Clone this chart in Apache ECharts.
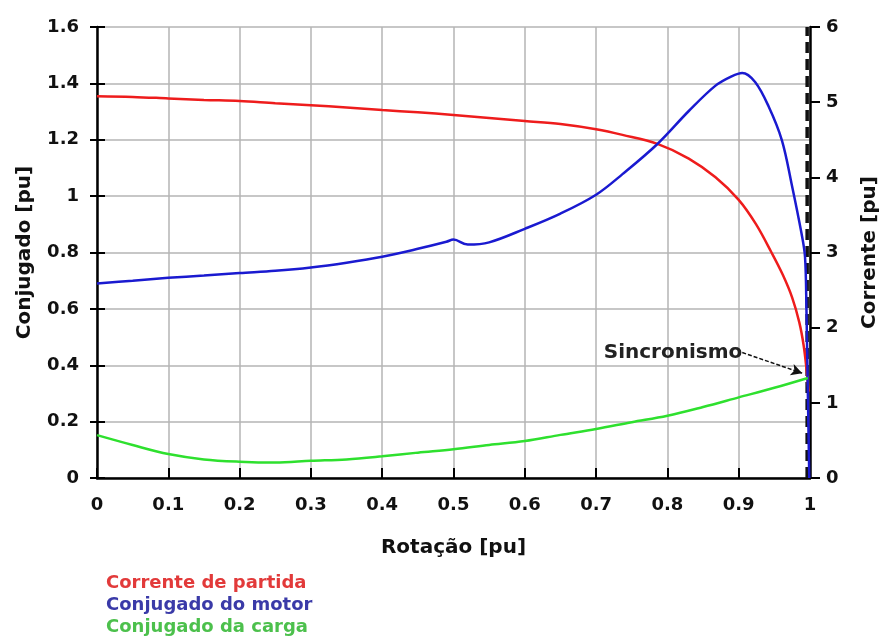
<!DOCTYPE html>
<html>
<head>
<meta charset="utf-8">
<script src="https://cdn.jsdelivr.net/npm/echarts@6/dist/echarts.min.js"></script>
<style>
  html, body { margin: 0; padding: 0; background: #fff; }
  #chart { width: 888px; height: 641px; }
</style>
</head>
<body>
<div id="chart"></div>
<script>
// Motor starting curves versus speed (per unit)
const motorRot = [0, 0.05, 0.1, 0.15, 0.2, 0.25, 0.3, 0.35, 0.4, 0.45, 0.49, 0.5, 0.52, 0.55, 0.6, 0.65, 0.7, 0.737, 0.786, 0.83, 0.8675, 0.89, 0.905, 0.923, 0.942, 0.9605, 0.974, 0.988, 0.993, 0.995, 0.997, 0.999];
const motorTorque = [0.69, 0.700, 0.710, 0.718, 0.727, 0.735, 0.747, 0.764, 0.785, 0.813, 0.838, 0.846, 0.828, 0.836, 0.884, 0.938, 1.005, 1.078, 1.185, 1.302, 1.392, 1.425, 1.437, 1.405, 1.318, 1.199, 1.046, 0.869, 0.785, 0.6, 0.3, 0];

const currentRot = [0, 0.05, 0.1, 0.15, 0.2, 0.25, 0.3, 0.35, 0.4, 0.45, 0.5, 0.55, 0.6, 0.65, 0.7, 0.737, 0.786, 0.83, 0.8675, 0.9, 0.924, 0.946, 0.962, 0.975, 0.985, 0.991, 0.995, 0.998];
const startCurrent = [5.08, 5.07, 5.05, 5.03, 5.015, 4.985, 4.96, 4.93, 4.895, 4.865, 4.83, 4.79, 4.75, 4.71, 4.64, 4.565, 4.445, 4.25, 4.0, 3.70, 3.38, 3.0, 2.70, 2.40, 2.07, 1.77, 1.46, 1.15];

const loadRot = [0, 0.05, 0.1, 0.15, 0.2, 0.25, 0.3, 0.35, 0.4, 0.45, 0.5, 0.55, 0.6, 0.65, 0.7, 0.75, 0.8, 0.85, 0.9, 0.95, 0.997];
const loadTorque = [0.152, 0.117, 0.085, 0.066, 0.058, 0.055, 0.061, 0.066, 0.077, 0.090, 0.102, 0.117, 0.131, 0.153, 0.174, 0.198, 0.221, 0.252, 0.286, 0.320, 0.355];

const seriesNames = ['Corrente de partida', 'Conjugado do motor', 'Conjugado da carga'];
const lineColors = ['#ee1c1c', '#1a1ad0', '#2ee02e'];
const legendColors = ['#e23a3a', '#3a3aa8', '#4cc04c'];

// Synchronous-speed marker and its annotation
const syncLineX = 0.996;
const syncLineSpan = [0, 1.6];
const syncLabel = 'Sincronismo';
const syncArrowFrom = [0.905, 0.445];
const syncArrowTo = [0.989, 0.372];

const FONT = 'DejaVu Sans';
const pairs = (xs, ys) => xs.map((x, i) => [x, ys[i]]);

const chart = echarts.init(document.getElementById('chart'), null, { renderer: 'canvas' });

const tickLabel = { fontFamily: FONT, fontWeight: 'bold', fontSize: 18, color: '#111' };
const nameStyle = { fontFamily: FONT, fontWeight: 'bold', fontSize: 20, color: '#111' };

chart.setOption({
  animation: false,
  backgroundColor: '#fff',
  grid: { left: 97, right: 74, top: 27, bottom: 163, containLabel: false },
  legend: {
    orient: 'vertical',
    left: 96,
    top: 569,
    itemWidth: 0,
    itemHeight: 0,
    itemGap: 4,
    icon: 'rect',
    selectedMode: false,
    data: seriesNames.map((n, i) => ({
      name: n,
      textStyle: { color: legendColors[i], fontFamily: FONT, fontWeight: 'bold', fontSize: 18 }
    }))
  },
  xAxis: {
    type: 'value', min: 0, max: 1, interval: 0.1,
    name: 'Rotação [pu]', nameLocation: 'middle', nameGap: 60, nameTextStyle: nameStyle,
    axisLine: { show: true, onZero: false, lineStyle: { color: '#000', width: 2.5 } },
    axisTick: { show: true, inside: true, length: 10, lineStyle: { color: '#000', width: 2 } },
    axisLabel: Object.assign({ margin: 18 }, tickLabel),
    splitLine: { show: true, lineStyle: { color: '#b4b4b4', width: 1.5 } }
  },
  yAxis: [
    {
      type: 'value', min: 0, max: 1.6, interval: 0.2, position: 'left',
      name: 'Conjugado [pu]', nameLocation: 'middle', nameGap: 62, nameRotate: 90, nameTextStyle: nameStyle,
      axisLine: { show: true, lineStyle: { color: '#000', width: 2.5 } },
      axisTick: { show: true, length: 7, lineStyle: { color: '#000', width: 2 } },
      axisLabel: Object.assign({ margin: 18 }, tickLabel),
      splitLine: { show: true, lineStyle: { color: '#b4b4b4', width: 1.5 } }
    },
    {
      type: 'value', min: 0, max: 6, interval: 1, position: 'right',
      name: 'Corrente [pu]', nameLocation: 'middle', nameGap: 50, nameRotate: 90, nameTextStyle: nameStyle,
      axisLine: { show: true, lineStyle: { color: '#000', width: 2.5 } },
      axisTick: { show: true, length: 10, lineStyle: { color: '#000', width: 2 } },
      axisLabel: Object.assign({ margin: 16 }, tickLabel),
      splitLine: { show: false }
    },
    {
      // inner half of the crossing ticks on the torque axis
      type: 'value', min: 0, max: 1.6, interval: 0.2, position: 'left',
      axisLine: { show: false },
      axisTick: { show: true, inside: true, length: 8, lineStyle: { color: '#000', width: 2 } },
      axisLabel: { show: false },
      splitLine: { show: false }
    }
  ],
  series: [
    {
      // dashed vertical line at synchronous speed
      name: 'sync', type: 'line', yAxisIndex: 0, z: 1,
      data: syncLineSpan.map(v => [syncLineX, v]),
      showSymbol: false, silent: true,
      lineStyle: { color: '#111', width: 3.5, type: [11, 6] }
    },
    {
      name: seriesNames[0], type: 'line', yAxisIndex: 1, z: 3,
      data: pairs(currentRot, startCurrent),
      smooth: 0.35, showSymbol: false,
      lineStyle: { color: lineColors[0], width: 2.5 }, itemStyle: { color: lineColors[0] }
    },
    {
      name: seriesNames[1], type: 'line', yAxisIndex: 0, z: 3,
      data: pairs(motorRot, motorTorque),
      smooth: 0.35, showSymbol: false,
      lineStyle: { color: lineColors[1], width: 2.5 }, itemStyle: { color: lineColors[1] }
    },
    {
      name: seriesNames[2], type: 'line', yAxisIndex: 0, z: 3,
      data: pairs(loadRot, loadTorque),
      smooth: 0.35, showSymbol: false,
      lineStyle: { color: lineColors[2], width: 2.5 }, itemStyle: { color: lineColors[2] },
      markLine: {
        silent: true, animation: false,
        symbol: ['none', 'arrow'], symbolSize: [9, 11],
        label: { show: false },
        lineStyle: { color: '#111', width: 1.5, type: [4, 2] },
        data: [[{ coord: syncArrowFrom }, { coord: syncArrowTo }]]
      },
      markPoint: {
        silent: true, animation: false,
        symbol: 'circle', symbolSize: 0,
        label: {
          show: true, position: 'left', distance: 0,
          formatter: syncLabel,
          fontFamily: FONT, fontWeight: 'bold', fontSize: 20, color: '#222'
        },
        data: [{ coord: syncArrowFrom }]
      }
    }
  ]
});
</script>
</body>
</html>
